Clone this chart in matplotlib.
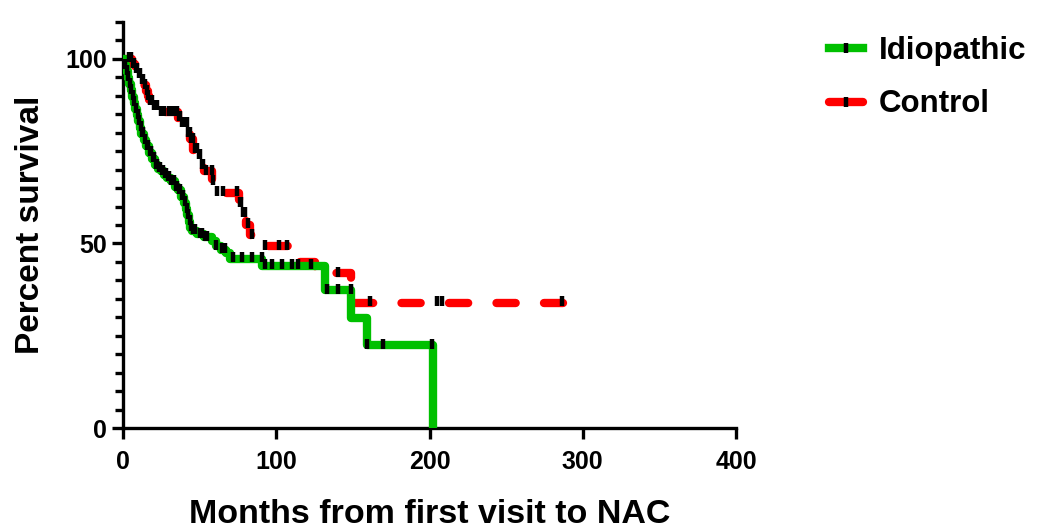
import matplotlib.pyplot as plt
from matplotlib.lines import Line2D
from matplotlib.ticker import MultipleLocator
import numpy as np

plt.rcParams['font.family'] = ['Liberation Sans', 'DejaVu Sans']
plt.rcParams['font.weight'] = 'bold'

# Idiopathic: step times (months) and survival (%) after each step
idio_t = [0, 1, 2, 3, 4, 5, 6, 7, 8, 9, 10, 11, 12, 14, 15, 17, 19, 21, 23, 25,
          27, 29, 31, 34, 36, 38, 40, 41, 42, 43, 44, 45, 48, 53, 58, 61, 64, 67,
          70, 91, 132, 149, 159, 202]
idio_s = [100, 98.3, 96.6, 94.9, 93.2, 91.5, 89.8, 88.1, 86.4, 84.7, 83.1, 81.4,
          79.7, 78.0, 76.3, 74.6, 72.9, 71.2, 70.3, 69.5, 68.6, 67.8, 66.9, 65.3,
          64.4, 62.7, 61.0, 59.3, 57.6, 55.9, 54.2, 53.4, 52.5, 51.7, 50.8, 49.2,
          48.3, 47.5, 45.8, 43.9, 37.3, 29.8, 22.4, 0]
idio_cens = [1.5, 2.5, 3.5, 4.5, 5.5, 6.5, 7.5, 8.5, 9.5, 10.5, 11.5, 12.5, 13,
             14.5, 15.5, 16, 17.5, 18, 19.5, 20, 21.5, 22, 23.5, 24, 25.5, 26,
             27.5, 28, 29.5, 30, 31.5, 32, 33, 34.5, 35, 36.5, 37, 38.5, 39, 40.5,
             41.5, 42.5, 43.5, 44.5, 46, 47, 50, 51.4, 53.5, 55, 61, 64.4, 66.6,
             72, 77.4, 84, 90.5, 92.7, 97, 104, 110, 114.4, 123, 133, 140, 148.6,
             159, 169.5, 201.6]

# Control
ctrl_t = [0, 6, 8, 10, 12, 14, 15, 16, 17, 20, 23, 36, 38, 42, 44, 46, 49, 51,
          53, 58, 60, 76, 78, 80, 83, 91, 113, 125, 149]
ctrl_s = [100, 98.6, 97.1, 95.7, 94.2, 92.8, 91.3, 89.9, 88.4, 87.0, 85.5, 84.1,
          82.6, 79.7, 78.3, 75.4, 73.9, 71.0, 69.6, 66.7, 63.8, 60.9, 58.0, 55.1,
          52.2, 49.3, 44.9, 42.0, 33.9]
ctrl_end = 287
ctrl_cens = [4, 5, 6.5, 7, 8.5, 9, 10.5, 11, 12.5, 13, 14.5, 15.5, 16.5, 17.5,
             18, 19, 20.5, 21.5, 22.5, 25, 27, 30, 32, 34, 35, 36.5, 37, 38.5,
             39.5, 40.5, 41.6, 42.5, 43.7, 44.5, 45.8, 47, 48, 49.5, 50.5, 51.4,
             52.4, 54, 57.9, 59, 61.1, 65.4, 74.2, 76.3, 77, 78.5, 79.5, 81.7, 84,
             92.7, 102, 106.8, 140, 161, 205, 208, 286.5]

green = '#00c000'
red = '#ff0000'


def surv_at(t, times, surv):
    i = np.searchsorted(times, t, side='right') - 1
    return np.array(surv)[i]


fig = plt.figure(figsize=(10.37, 5.29), dpi=100)
ax = fig.add_axes([123/1037, 101/529, 613/1037, 406/529])

# control curve (dashed, underneath)
ax.step(ctrl_t + [ctrl_end], ctrl_s + [ctrl_s[-1]], where='post', color=red,
        lw=6, linestyle=(0, (2.3, 3.4)), dash_capstyle='round', zorder=2)
ax.plot(ctrl_cens, surv_at(ctrl_cens, ctrl_t, ctrl_s) + 0.4, ls='none',
        marker='|', color='black', ms=6.5, mew=3.2, zorder=5)

# idiopathic curve
ax.step(idio_t, idio_s, where='post', color=green, lw=6, zorder=3)
ax.plot(idio_cens, surv_at(idio_cens, idio_t, idio_s) + 0.4, ls='none',
        marker='|', color='black', ms=6.5, mew=3.2, zorder=5)

ax.set_xlim(0, 400)
ax.set_ylim(0, 110)
ax.set_xticks([0, 100, 200, 300, 400])
ax.set_yticks([0, 50, 100])
ax.yaxis.set_minor_locator(MultipleLocator(5))
for s in ['top', 'right']:
    ax.spines[s].set_visible(False)
for s in ['left', 'bottom']:
    ax.spines[s].set_linewidth(2.4)
ax.tick_params(which='both', direction='out', width=2.4, labelsize=18)
ax.tick_params(which='major', length=8)
ax.tick_params(which='minor', length=6)
ax.tick_params(axis='x', pad=8)
for lab in ax.get_xticklabels() + ax.get_yticklabels():
    lab.set_fontweight('bold')

ax.set_xlabel('Months from first visit to NAC', fontsize=24.5,
              fontweight='bold', labelpad=18)
ax.set_ylabel('Percent survival', fontsize=24, fontweight='bold', labelpad=14)

handles = [
    Line2D([], [], color=green, lw=6, marker='|', mec='black', ms=6.5, mew=3.2),
    Line2D([], [], color=red, lw=6, marker='|', mec='black', ms=6.5, mew=3.2,
           solid_capstyle='round'),
]
fig.legend(handles, ['Idiopathic', 'Control'], loc='upper left',
           bbox_to_anchor=(0.772, 0.985), frameon=False,
           handlelength=1.1, labelspacing=0.75, handletextpad=0.5,
           prop={'weight': 'bold', 'size': 22.5})

fig.savefig('out.png', dpi=100)
